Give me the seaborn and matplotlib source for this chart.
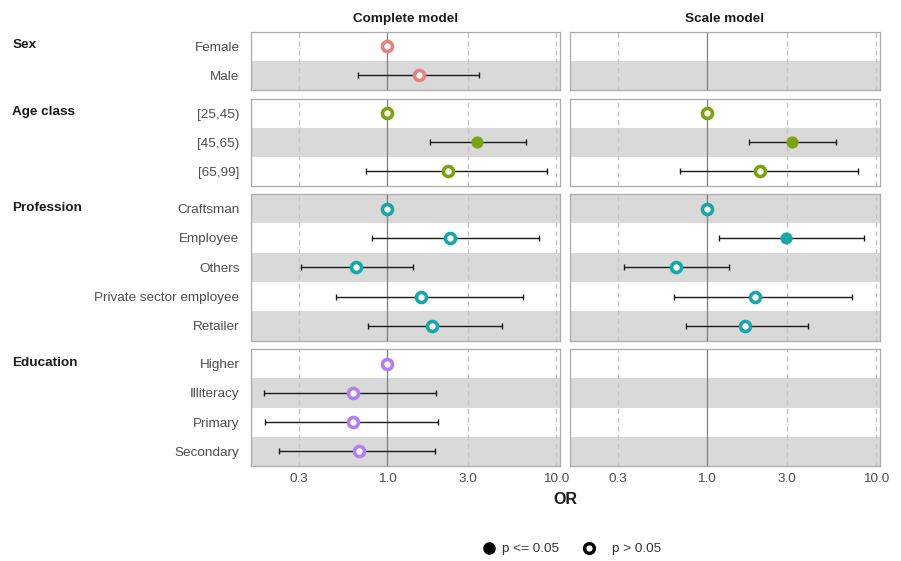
import numpy as np
import pandas as pd
import matplotlib
matplotlib.use("Agg")
import matplotlib.pyplot as plt
from matplotlib.lines import Line2D
from matplotlib.ticker import NullLocator, FixedLocator, FixedFormatter
import seaborn as sns

sns.set_theme(style="white")
plt.rcParams["font.family"] = ["Liberation Sans", "DejaVu Sans"]

nan = np.nan

# ---- data ----------------------------------------------------------------
models = ["Complete model", "Scale model"]
groups = ["Sex", "Age class", "Profession", "Education"]
group_terms = {
    "Sex": ["Female", "Male"],
    "Age class": ["[25,45)", "[45,65)", "[65,99]"],
    "Profession": ["Craftsman", "Employee", "Others",
                   "Private sector employee", "Retailer"],
    "Education": ["Higher", "Illiteracy", "Primary", "Secondary"],
}
group_colors = ["#E8807B", "#7BA30F", "#17A7AA", "#B47DF0"]

# odds ratios with 95% CI, term order follows group_terms
complete_or = [1.00, 1.54, 1.00, 3.40, 2.29, 1.00, 2.37, 0.652, 1.59, 1.84,
               1.00, 0.623, 0.628, 0.682]
complete_lo = [nan, 0.673, nan, 1.80, 0.747, nan, 0.808, 0.308, 0.498, 0.768,
               nan, 0.185, 0.188, 0.228]
complete_hi = [nan, 3.49, nan, 6.66, 8.84, nan, 7.96, 1.42, 6.42, 4.78,
               nan, 1.95, 2.01, 1.93]
complete_sig = [False, False, False, True, False, False, False, False, False,
                False, False, False, False, False]

scale_or = [nan, nan, 1.00, 3.18, 2.08, 1.00, 2.96, 0.657, 1.94, 1.68,
            nan, nan, nan, nan]
scale_lo = [nan, nan, nan, 1.78, 0.698, nan, 1.18, 0.324, 0.640, 0.757,
            nan, nan, nan, nan]
scale_hi = [nan, nan, nan, 5.86, 7.85, nan, 8.47, 1.35, 7.24, 4.00,
            nan, nan, nan, nan]
scale_sig = [False, False, False, True, False, False, True, False, False,
             False, False, False, False, False]

x_ticks = [0.3, 1.0, 3.0, 10.0]
x_tick_labels = ["0.3", "1.0", "3.0", "10.0"]

# ---- long table -----------------------------------------------------------
terms, term_group, term_pos = [], [], []
for g in groups:
    for i, t in enumerate(group_terms[g]):
        terms.append(t)
        term_group.append(g)
        term_pos.append(i)
n_terms = len(terms)

rows = []
for model, ors, los, his, sigs in [
    ("Complete model", complete_or, complete_lo, complete_hi, complete_sig),
    ("Scale model", scale_or, scale_lo, scale_hi, scale_sig),
]:
    for k in range(n_terms):
        rows.append(dict(model=model, group=term_group[k], term=terms[k],
                         pos=term_pos[k], OR=ors[k], lo=los[k], hi=his[k],
                         sig=sigs[k], stripe=(n_terms - 1 - k) % 2 == 0))
df = pd.DataFrame(rows)

# ---- layout (pixels) ------------------------------------------------------
W, H = 901, 561
fig = plt.figure(figsize=(W / 100, H / 100), dpi=100)
row_px = [(31.5, 90.0), (98.5, 186.0), (194.0, 340.5), (349.0, 466.0)]
col_px = [(250.5, 560.0), (569.5, 880.0)]

def frac(l, t, r, b):
    return [l / W, 1 - b / H, (r - l) / W, (b - t) / H]

label_col = "#4D4D4D"
fs = 9.7

for gi, g in enumerate(groups):
    for mi, model in enumerate(models):
        l, r = col_px[mi]
        t, b = row_px[gi]
        ax = fig.add_axes(frac(l, t, r, b))
        ax.set_xscale("log")
        sub = df[(df.group == g) & (df.model == model)]
        n = len(group_terms[g])

        # background stripes
        for _, rw in sub.iterrows():
            if rw.stripe:
                ax.axhspan(rw.pos - 0.5, rw.pos + 0.5, color="#D9D9D9",
                           lw=0, zorder=0)
        # reference lines
        for xv in [0.3, 3.0, 10.0]:
            ax.axvline(xv, color="#C4C4C4", lw=0.9, ls=(0, (4, 3)), zorder=1)
        ax.axvline(1.0, color="#7F7F7F", lw=0.9, zorder=1)

        ci = sub.dropna(subset=["lo", "hi"])
        if len(ci):
            ax.errorbar(x=ci.OR, y=ci.pos,
                        xerr=[ci.OR - ci.lo, ci.hi - ci.OR],
                        fmt="none", ecolor="#1A1A1A", elinewidth=1.0,
                        capsize=2.0, capthick=1.0, zorder=2)
        col = group_colors[gi]
        pts = sub.dropna(subset=["OR"])
        open_pts = pts[~pts.sig]
        fill_pts = pts[pts.sig]
        if len(open_pts):
            sns.scatterplot(data=open_pts, x="OR", y="pos", ax=ax,
                            color="white", edgecolor=col, linewidth=2.6,
                            s=52, zorder=4, legend=False)
        if len(fill_pts):
            sns.scatterplot(data=fill_pts, x="OR", y="pos", ax=ax,
                            color=col, edgecolor=col, linewidth=0.6,
                            s=66, zorder=4, legend=False)

        ax.set_xlim(0.1545, 10.6)
        ax.set_ylim(n - 0.5, -0.5)
        ax.set_xlabel("")
        ax.set_ylabel("")
        ax.xaxis.set_minor_locator(NullLocator())
        ax.xaxis.set_major_locator(FixedLocator(x_ticks))
        ax.xaxis.set_major_formatter(FixedFormatter(x_tick_labels))
        ax.set_yticks(range(n))
        if mi == 0:
            ax.set_yticklabels(group_terms[g])
        else:
            ax.set_yticklabels([])
        if gi != len(groups) - 1:
            ax.set_xticklabels([])
        ax.tick_params(axis="both", length=0, labelsize=fs,
                       labelcolor=label_col)
        ax.tick_params(axis="y", pad=8)
        ax.tick_params(axis="x", pad=5)
        for sp in ax.spines.values():
            sp.set_visible(True)
            sp.set_color("#ABABAB")
            sp.set_linewidth(0.9)
        ax.grid(False)

        if gi == 0:
            ax.set_title(model, fontsize=fs, fontweight="bold",
                         color="#1A1A1A", pad=7)
        if mi == 0:
            yc = t + (b - t) / (2 * n)
            fig.text(12.5 / W, 1 - (yc - 1) / H, g, fontsize=fs,
                     fontweight="bold", color="#1A1A1A", ha="left",
                     va="center")

fig.text(565 / W, 1 - 500 / H, "OR", fontsize=11.5, fontweight="bold",
         color="#1A1A1A", ha="center", va="center")

# significance key, one entry per legend box
key_entries = [
    (Line2D([], [], ls="none", marker="o", markersize=8,
            markerfacecolor="black", markeredgecolor="black"),
     "p <= 0.05", 489, 0.45),
    (Line2D([], [], ls="none", marker="o", markersize=7,
            markerfacecolor="white", markeredgecolor="black",
            markeredgewidth=2.5),
     "p > 0.05", 588.5, 1.25),
]
hl = 1.0
hl_px = hl * fs * 100 / 72
for handle, text, cx, pad in key_entries:
    fig.legend([handle], [text], loc="center left",
               bbox_to_anchor=((cx - hl_px / 2) / W, 1 - 549 / H),
               frameon=False, fontsize=fs, labelcolor="#333333",
               handletextpad=pad, handlelength=hl, borderpad=0,
               borderaxespad=0)

fig.savefig("out.png", dpi=100)
